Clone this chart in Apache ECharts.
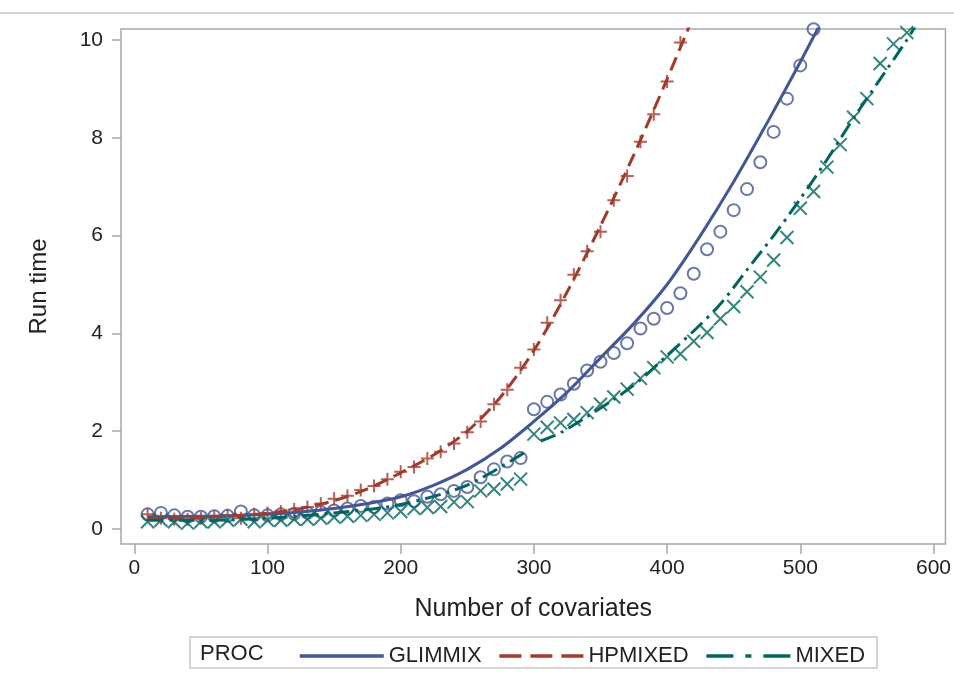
<!DOCTYPE html>
<html>
<head>
<meta charset="utf-8">
<script src="https://cdn.jsdelivr.net/npm/echarts@6/dist/echarts.min.js"></script>
<style>
    html, body { margin: 0; padding: 0; background: #fff; }
    #chart { width: 954px; height: 677px; }
</style>
</head>
<body>
<div id="chart"></div>
<script>
    // tick labels
    var xTicks = [0, 100, 200, 300, 400, 500, 600];
    var yTicks = [0, 2, 4, 6, 8, 10];

    // observed run times, one point every 10 covariates
    var obsX = [10, 20, 30, 40, 50, 60, 70, 80, 90, 100, 110, 120, 130, 140, 150, 160, 170, 180, 190, 200,
        210, 220, 230, 240, 250, 260, 270, 280, 290, 300, 310, 320, 330, 340, 350, 360, 370, 380, 390, 400,
        410, 420, 430, 440, 450, 460, 470, 480, 490, 500, 510, 520, 530, 540, 550, 560, 570, 580];
    var glimmixObs = [0.30, 0.33, 0.28, 0.25, 0.25, 0.26, 0.27, 0.36, 0.28, 0.28, 0.30, 0.31, 0.33, 0.35, 0.38, 0.42, 0.47, 0.45, 0.52, 0.59,
        0.57, 0.66, 0.71, 0.78, 0.86, 1.06, 1.22, 1.38, 1.45, 2.45, 2.60, 2.75, 2.97, 3.24, 3.42, 3.60, 3.80, 4.10, 4.30, 4.52,
        4.82, 5.22, 5.72, 6.08, 6.52, 6.95, 7.50, 8.12, 8.80, 9.48, 10.22];
    var hpmixedObs = [0.30, 0.22, 0.20, 0.20, 0.22, 0.25, 0.28, 0.22, 0.30, 0.33, 0.36, 0.40, 0.45, 0.52, 0.62, 0.68, 0.80, 0.88, 1.02, 1.17,
        1.27, 1.44, 1.58, 1.75, 1.98, 2.20, 2.55, 2.85, 3.30, 3.67, 4.22, 4.68, 5.20, 5.68, 6.08, 6.72, 7.22, 7.92, 8.48, 9.15,
        9.95];
    var mixedObs = [0.15, 0.18, 0.15, 0.12, 0.15, 0.15, 0.18, 0.20, 0.15, 0.18, 0.18, 0.20, 0.20, 0.22, 0.24, 0.26, 0.28, 0.30, 0.33, 0.36,
        0.42, 0.44, 0.46, 0.55, 0.56, 0.78, 0.82, 0.92, 1.02, 1.94, 2.08, 2.17, 2.24, 2.38, 2.55, 2.70, 2.86, 3.08, 3.30, 3.52,
        3.58, 3.84, 4.02, 4.30, 4.55, 4.85, 5.15, 5.50, 5.96, 6.56, 6.90, 7.40, 7.86, 8.42, 8.80, 9.52, 9.92, 10.15];

    // fitted curves
    var glimmixFitX = [10, 50, 75, 100, 125, 150, 175, 200, 225, 250, 275, 300, 325, 350, 375, 400, 425, 450, 475, 500, 525];
    var glimmixFit = [0.25, 0.26, 0.27, 0.30, 0.35, 0.42, 0.52, 0.66, 0.90, 1.22, 1.65, 2.20, 2.80, 3.50, 4.20, 5.00, 6.00, 7.10, 8.30, 9.55, 10.85];
    var hpmixedFitX = [10, 50, 100, 125, 150, 175, 200, 225, 250, 275, 300, 325, 350, 375, 400, 420];
    var hpmixedFit = [0.22, 0.24, 0.32, 0.42, 0.58, 0.82, 1.15, 1.52, 2.00, 2.70, 3.65, 4.85, 6.20, 7.65, 9.20, 10.50];
    var mixedFitX = [10, 50, 100, 150, 200, 250, 295, 300, 305, 320, 340, 360, 380, 400, 420, 440, 460, 480, 500, 520, 540, 560, 580, 590];
    var mixedFit = [0.18, 0.18, 0.22, 0.33, 0.50, 0.90, 1.60, '-', 1.80, 1.97, 2.30, 2.65, 3.05, 3.55, 4.05, 4.60, 5.30, 6.00, 6.75, 7.55, 8.40, 9.20, 10.00, 10.45];

    var colors = { GLIMMIX: '#445694', HPMIXED: '#A23A2E', MIXED: '#01665E' };
    var font = '"Liberation Sans", Arial, sans-serif';

    function pairs(xs, ys) {
        return ys.map(function (y, i) { return [xs[i], y]; });
    }

    function obsSeries(name, ys, symbol, size) {
        return {
            name: name + ' obs',
            type: 'scatter',
            z: 2,
            symbol: symbol,
            symbolSize: size,
            itemStyle: { color: 'rgba(0,0,0,0)', borderColor: colors[name], borderWidth: 2 },
            data: pairs(obsX, ys)
        };
    }

    function fitSeries(name, xs, ys, dash) {
        return {
            name: name,
            type: 'line',
            z: 3,
            symbol: 'none',
            smooth: 0.3,
            connectNulls: false,
            color: colors[name],
            lineStyle: { color: colors[name], width: 3, type: dash },
            data: pairs(xs, ys)
        };
    }

    var chart = echarts.init(document.getElementById('chart'));
    chart.setOption({
        animation: false,
        textStyle: { fontFamily: font },
        grid: {
            left: 121, top: 29, right: 6, bottom: 133,
            show: true, borderColor: '#a8a8a8', borderWidth: 1.5
        },
        xAxis: {
            type: 'value', min: -10, max: 609,
            name: 'Number of covariates', nameLocation: 'middle', nameGap: 53,
            nameTextStyle: { fontSize: 25, color: '#222', fontFamily: font },
            axisLine: { show: false, onZero: false },
            splitLine: { show: false },
            axisTick: { show: true, length: 10, customValues: xTicks, lineStyle: { color: '#a8a8a8', width: 1.5 } },
            axisLabel: { customValues: xTicks, margin: 14, fontSize: 21, color: '#222', fontFamily: font }
        },
        yAxis: {
            type: 'value', min: -0.306, max: 10.224,
            name: 'Run time', nameLocation: 'middle', nameGap: 70,
            nameTextStyle: { fontSize: 24, color: '#222', fontFamily: font },
            axisLine: { show: false, onZero: false },
            splitLine: { show: false },
            axisTick: { show: true, length: 9, customValues: yTicks, lineStyle: { color: '#a8a8a8', width: 1.5 } },
            axisLabel: { customValues: yTicks, margin: 18, fontSize: 21, color: '#222', fontFamily: font }
        },
        legend: {
            data: [
                { name: 'GLIMMIX', lineStyle: { width: 3.5, type: 'solid' } },
                { name: 'HPMIXED', lineStyle: { width: 3.5, type: [22, 9] } },
                { name: 'MIXED', lineStyle: { width: 3.5, type: [27, 12, 6, 12] } }
            ],
            left: 293, top: 640,
            itemWidth: 84, itemHeight: 14, itemGap: 16,
            itemStyle: { opacity: 0 },
            textStyle: { fontSize: 22, color: '#222', fontFamily: font }
        },
        graphic: [
            { type: 'line', shape: { x1: 0, y1: 13, x2: 954, y2: 13 }, style: { stroke: '#d4d4d4', lineWidth: 2 } },
            { type: 'rect', shape: { x: 190, y: 637, width: 687, height: 31 }, style: { fill: 'none', stroke: '#c8c8c8', lineWidth: 1.5 } },
            { type: 'text', left: 200, top: 643, style: { text: 'PROC', fontSize: 22, fill: '#222', fontFamily: font } }
        ],
        series: [
            fitSeries('GLIMMIX', glimmixFitX, glimmixFit, 'solid'),
            fitSeries('HPMIXED', hpmixedFitX, hpmixedFit, [14, 7]),
            fitSeries('MIXED', mixedFitX, mixedFit, [16, 6, 3, 6]),
            obsSeries('GLIMMIX', glimmixObs, 'circle', 12),
            obsSeries('HPMIXED', hpmixedObs, 'path://M0,6L12,6M6,0L6,12', 13),
            obsSeries('MIXED', mixedObs, 'path://M0,0L12,12M12,0L0,12', 13)
        ]
    });
</script>
</body>
</html>
